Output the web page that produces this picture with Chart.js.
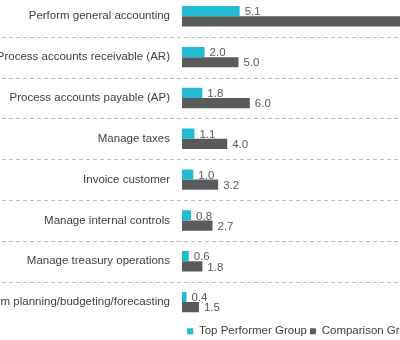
<!DOCTYPE html>
<html>
<head>
<meta charset="utf-8">
<script src="https://cdn.jsdelivr.net/npm/chart.js@4"></script>
<style>
    html, body { margin: 0; padding: 0; background: #fff; overflow: hidden; }
    #wrap { position: absolute; left: -40px; top: -23px; width: 692px; height: 370px; }
</style>
</head>
<body>
<div id="wrap"><canvas id="processChart"></canvas></div>
<script>
const processes = [
    'Perform general accounting',
    'Process accounts receivable (AR)',
    'Process accounts payable (AP)',
    'Manage taxes',
    'Invoice customer',
    'Manage internal controls',
    'Manage treasury operations',
    'Perform planning/budgeting/forecasting'
];
const topPerformer = [5.1, 2.0, 1.8, 1.1, 1.0, 0.8, 0.6, 0.4];
const comparison = [24.0, 5.0, 6.0, 4.0, 3.2, 2.7, 1.8, 1.5];

const FONT = "'Liberation Sans', Arial, sans-serif";

// value labels to the right of every bar
const valueLabels = {
    id: 'valueLabels',
    afterDatasetsDraw(chart) {
        const ctx = chart.ctx;
        ctx.save();
        ctx.font = '11.5px ' + FONT;
        ctx.fillStyle = '#595959';
        ctx.textAlign = 'left';
        ctx.textBaseline = 'middle';
        chart.data.datasets.forEach((ds, i) => {
            chart.getDatasetMeta(i).data.forEach((bar, j) => {
                ctx.fillText(ds.data[j].toFixed(1), bar.x + 5, bar.y + 1);
            });
        });
        ctx.restore();
    }
};

// dashed separators between categories, across the full width
const rowLines = {
    id: 'rowLines',
    beforeDatasetsDraw(chart) {
        const ctx = chart.ctx;
        const y = chart.scales.y;
        ctx.save();
        ctx.strokeStyle = '#bfbfbf';
        ctx.lineWidth = 1;
        ctx.setLineDash([4, 3]);
        for (let i = 0; i < processes.length - 1; i++) {
            const py = Math.round((y.getPixelForValue(i) + y.getPixelForValue(i + 1)) / 2) + 0.5;
            ctx.beginPath();
            ctx.moveTo(0, py);
            ctx.lineTo(chart.width, py);
            ctx.stroke();
        }
        ctx.restore();
    }
};

new Chart(document.getElementById('processChart'), {
    type: 'bar',
    data: {
        labels: processes,
        datasets: [{
            label: 'Top Performer Group',
            data: topPerformer,
            backgroundColor: '#22bbd3'
        }, {
            label: 'Comparison Group',
            data: comparison,
            backgroundColor: '#5a5a5c'
        }]
    },
    options: {
        indexAxis: 'y',
        responsive: true,
        maintainAspectRatio: false,
        animation: false,
        datasets: {
            bar: { categoryPercentage: 0.5, barPercentage: 1.0 }
        },
        layout: { padding: { left: 12, right: 18, top: 0, bottom: 0 } },
        scales: {
            x: {
                display: false,
                min: 0,
                max: 40
            },
            y: {
                grid: { display: false, drawTicks: false },
                border: { display: false },
                ticks: {
                    padding: 12,
                    color: '#404040',
                    font: { family: FONT, size: 11.5 }
                },
                afterFit(scale) { scale.width = 210; }
            }
        },
        plugins: {
            legend: {
                position: 'bottom',
                labels: {
                    boxWidth: 6,
                    boxHeight: 6,
                    padding: 3,
                    color: '#404040',
                    font: { family: FONT, size: 11.5 }
                }
            },
            tooltip: { enabled: false }
        }
    },
    plugins: [rowLines, valueLabels]
});
</script>
</body>
</html>
